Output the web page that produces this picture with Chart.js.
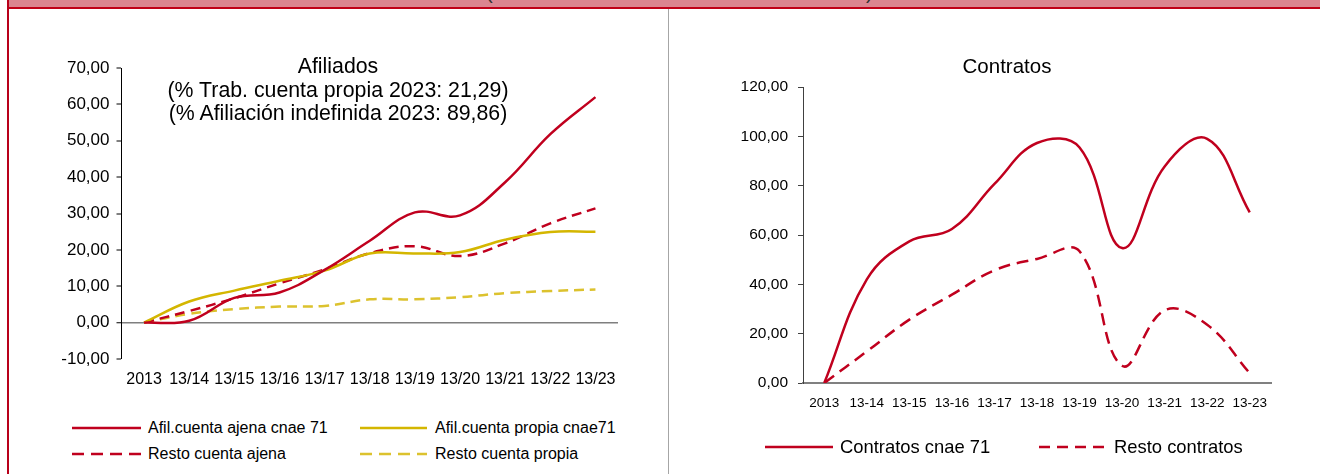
<!DOCTYPE html>
<html>
<head>
<meta charset="utf-8">
<script src="https://cdn.jsdelivr.net/npm/chart.js@4.4.1/dist/chart.umd.min.js"></script>
<style>
  body { margin: 0; width: 1320px; height: 474px; background: #fff; position: relative; overflow: hidden;
         font-family: 'Liberation Sans', Arial, sans-serif; color: #000; }
  .band { position: absolute; left: 9px; top: 0; width: 1311px; height: 7px; background: #db8590; overflow: hidden; }
  .band span { position: absolute; top: -18px; font-size: 20px; line-height: 20px; color: #333; }
  .rule { position: absolute; left: 7px; top: 7px; width: 1313px; height: 2px; background: #c00018; }
  .side { position: absolute; left: 7px; top: 0; width: 2px; height: 474px; background: #b8001a; }
  .divider { position: absolute; left: 668px; top: 9px; width: 1px; height: 465px; background: #a6a6a6; }
  canvas { position: absolute; }
  .title { position: absolute; text-align: center; white-space: nowrap; transform: translateX(-50%); }
  .leg { position: absolute; white-space: nowrap; transform: translateY(-50%); }
  svg.leg { overflow: visible; }
</style>
</head>
<body>
<div class="band"><span style="left:477px">(</span><span style="left:857px">)</span></div>
<div class="rule"></div>
<div class="side"></div>
<div class="divider"></div>

<canvas id="afil" width="650" height="360" style="left:10px;top:40px"></canvas>
<canvas id="contr" width="630" height="400" style="left:680px;top:40px"></canvas>

<div id="afilTitle" class="title" style="left:338px;top:55px;font-size:21.3px;line-height:23.5px"></div>
<div id="contrTitle" class="title" style="left:1007px;top:54px;font-size:20.5px;line-height:23.5px"></div>
<div id="legends"></div>

<script>
// ---- datos: afiliados (variación % acumulada respecto a 2013)
const afilLabels = ['2013', '13/14', '13/15', '13/16', '13/17', '13/18', '13/19', '13/20', '13/21', '13/22', '13/23'];
const ajena71     = [0, 0.5, 6.8, 8.3, 14.5, 22.5, 30.3, 29.5, 38.6, 51.8, 62.0];
const propia71    = [0, 5.8, 8.8, 11.5, 14.3, 19.0, 19.0, 19.4, 22.8, 24.9, 25.0];
const restoAjena  = [0, 3.2, 6.7, 10.8, 14.6, 19.1, 21.0, 18.3, 21.8, 27.3, 31.4];
const restoPropia = [0, 2.4, 3.7, 4.4, 4.6, 6.4, 6.4, 7.0, 8.1, 8.7, 9.1];
const afilTitle = ['Afiliados', '(% Trab. cuenta propia 2023: 21,29)', '(% Afiliación indefinida 2023: 89,86)'];
const afilTicks = { min: -10, max: 70, step: 10 };

// ---- datos: contratos
const contrLabels  = ['2013', '13-14', '13-15', '13-16', '13-17', '13-18', '13-19', '13-20', '13-21', '13-22', '13-23'];
const contratos71  = [0, 42.0, 57.4, 62.4, 80.7, 97.3, 95.5, 54.7, 87.8, 99.0, 69.2];
const restoContr   = [0, 12.8, 25.7, 35.8, 45.7, 50.3, 53.4, 7.0, 29.5, 23.6, 4.0];
const contrTitle = ['Contratos'];
const contrTicks = { min: 0, max: 120, step: 20 };

const RED = '#c0001e';
const YEL = '#d4b600';
const YEL2 = '#dcc22e';

Chart.defaults.font.family = "'Liberation Sans', Arial, sans-serif";
Chart.defaults.color = '#000';

const fmt = v => Number(v).toFixed(2).replace('.', ',');

document.getElementById('afilTitle').innerHTML = afilTitle.join('<br>');
document.getElementById('contrTitle').innerHTML = contrTitle.join('<br>');

/* ---------- Afiliados ---------- */
const afil = new Chart(document.getElementById('afil'), {
    type: 'line',
    data: {
        labels: afilLabels,
        datasets: [
            { label: 'Afil.cuenta ajena cnae 71', data: ajena71, borderColor: RED },
            { label: 'Afil.cuenta propia cnae71', data: propia71, borderColor: YEL },
            { label: 'Resto cuenta ajena', data: restoAjena, borderColor: RED, borderDash: [10, 6] },
            { label: 'Resto cuenta propia', data: restoPropia, borderColor: YEL2, borderDash: [10, 6] }
        ]
    },
    options: {
        responsive: false,
        animation: false,
        layout: { padding: { top: 28, left: 0, right: 42, bottom: 6 } },
        elements: {
            point: { radius: 0 },
            line: { tension: 0.4, borderWidth: 2.5, fill: false }
        },
        plugins: { legend: { display: false }, tooltip: { enabled: false } },
        scales: {
            x: {
                offset: true,
                border: { display: false },
                grid: { display: false, drawTicks: false },
                ticks: { color: '#000', font: { size: 16 }, padding: 11, maxRotation: 0, autoSkip: false },
                afterFit: s => { s.height = 35; }
            },
            y: {
                min: afilTicks.min, max: afilTicks.max,
                border: { color: '#000', width: 1 },
                grid: {
                    color: c => (c.tick && c.tick.value === 0) ? '#7f7f7f' : 'transparent',
                    lineWidth: c => (c.tick && c.tick.value === 0) ? 1.5 : 0,
                    tickColor: '#000', tickWidth: 1, tickLength: 5
                },
                ticks: { stepSize: afilTicks.step, color: '#000', font: { size: 17 }, padding: 7, callback: fmt },
                afterFit: s => { s.width = 111.5; }
            }
        }
    }
});

/* ---------- Contratos ---------- */
const contr = new Chart(document.getElementById('contr'), {
    type: 'line',
    data: {
        labels: contrLabels,
        datasets: [
            { label: 'Contratos cnae 71', data: contratos71, borderColor: RED },
            { label: 'Resto contratos', data: restoContr, borderColor: RED, borderDash: [12, 7] }
        ]
    },
    options: {
        responsive: false,
        animation: false,
        layout: { padding: { top: 47, left: 0, right: 39, bottom: 27 } },
        elements: {
            point: { radius: 0 },
            line: { tension: 0.4, borderWidth: 2.5, fill: false }
        },
        plugins: { legend: { display: false }, tooltip: { enabled: false } },
        scales: {
            x: {
                offset: true,
                border: { color: '#808080', width: 2 },
                grid: { display: false, drawTicks: false },
                ticks: { color: '#000', font: { size: 13.5 }, padding: 12, maxRotation: 0, autoSkip: false },
                afterFit: s => { s.height = 30; }
            },
            y: {
                min: contrTicks.min, max: contrTicks.max,
                border: { color: '#404040', width: 1 },
                grid: { drawOnChartArea: false, tickColor: '#404040', tickWidth: 1, tickLength: 5 },
                ticks: { stepSize: contrTicks.step, color: '#000', font: { size: 15.5 }, padding: 10, callback: fmt },
                afterFit: s => { s.width = 123; }
            }
        }
    }
});

/* ---------- leyendas en HTML (posiciones como en el original) ---------- */
function legend(chart, slots, fontSize) {
    const box = document.getElementById('legends');
    chart.data.datasets.forEach((ds, i) => {
        const s = slots[i];
        const dash = ds.borderDash ? s.dash.join(',') : 'none';
        box.insertAdjacentHTML('beforeend',
            `<svg class="leg" style="left:${s.x}px;top:${s.y}px" width="${s.len}" height="4">` +
            `<line x1="0" y1="2" x2="${s.len}" y2="2" stroke="${ds.borderColor}" stroke-width="2.5" stroke-dasharray="${dash}"/></svg>` +
            `<div class="leg" style="left:${s.tx}px;top:${s.y}px;font-size:${fontSize}px">${ds.label}</div>`);
    });
}

legend(afil, [
    { x: 72, y: 428, len: 69, tx: 148, dash: [12, 7] },
    { x: 360, y: 428, len: 67, tx: 435, dash: [12, 7] },
    { x: 72, y: 454, len: 69, tx: 148, dash: [12, 7] },
    { x: 360, y: 454, len: 67, tx: 435, dash: [12, 7] }
], 16);

legend(contr, [
    { x: 765, y: 447, len: 68, tx: 840, dash: [11, 7] },
    { x: 1039, y: 447, len: 65, tx: 1114, dash: [11, 7] }
], 18.4);
</script>
</body>
</html>
